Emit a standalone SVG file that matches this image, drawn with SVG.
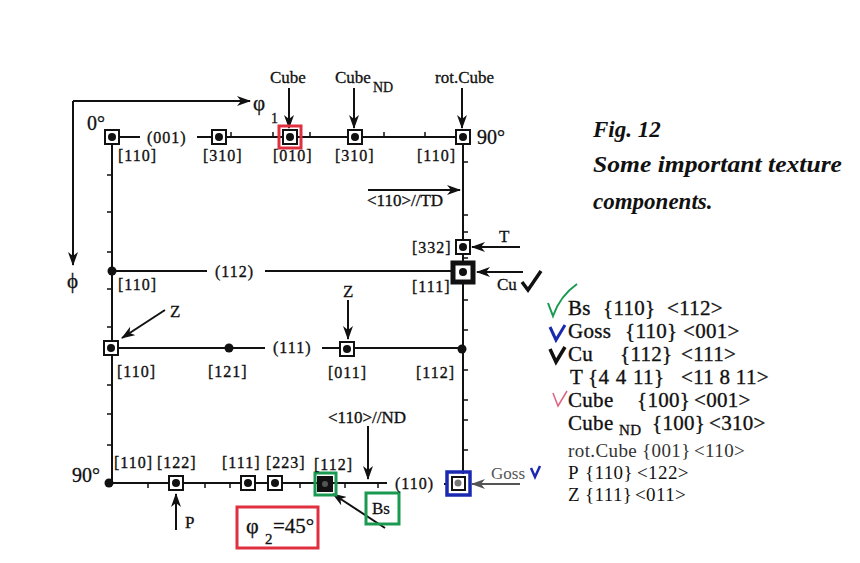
<svg xmlns="http://www.w3.org/2000/svg" width="860" height="563" viewBox="0 0 860 563">
<defs>
<marker id="ah" markerWidth="14" markerHeight="10" refX="13" refY="5" orient="auto" markerUnits="userSpaceOnUse">
<path d="M0,0 L14,5 L0,10 L4,5 z" fill="#111"/>
</marker>
<marker id="ahg" markerWidth="14" markerHeight="10" refX="13" refY="5" orient="auto" markerUnits="userSpaceOnUse">
<path d="M0,0 L14,5 L0,10 L4,5 z" fill="#555"/>
</marker>
<style>
.ln{stroke:#111;stroke-width:2;fill:none}
.tk{stroke:#111;stroke-width:1.5;fill:none}
.ar{stroke:#111;stroke-width:2;fill:none;marker-end:url(#ah)}
.box{fill:#fff;stroke:#111;stroke-width:2}
.dot{fill:#111}
.t{font-family:"Liberation Serif",serif;font-size:16px;fill:#111;letter-spacing:1px;stroke:#111;stroke-width:0.35}
.lb{font-family:"Liberation Serif",serif;font-size:17px;fill:#111;stroke:#111;stroke-width:0.3}
.lg{font-family:"Liberation Serif",serif;font-size:21px;fill:#111;letter-spacing:0.3px;stroke:#111;stroke-width:0.35}
.lgs{font-family:"Liberation Serif",serif;font-size:19px;fill:#333;letter-spacing:0.4px}
.ttl{font-family:"Liberation Serif",serif;font-size:23px;font-weight:bold;font-style:italic;fill:#111}
</style>
</defs>
<rect width="860" height="563" fill="#fff"/>

<g id="connectors">
<path class="ln" d="M73,101 H250" marker-end="url(#ah)"/>
<path class="ln" d="M73,101 V265" marker-end="url(#ah)"/>
<path class="ln" d="M112,137 H140 M197,137 H463"/>
<path class="ln" d="M112,137 V483"/>
<path class="ln" d="M463,137 V474"/>
<path class="ln" d="M111,271 H207 M265,271 H463"/>
<path class="ln" d="M111,348 H265 M322,348 H463"/>
<path class="ln" d="M109,483 H387"/>
<path class="ln" d="M444,484 H448"/>
<path class="tk" d="M231,137 v-5 M273,137 v-5 M310,137 v-5 M384,137 v-5 M425,137 v-5"/>
<path class="tk" d="M112,175 h-5 M112,212 h-5 M112,252 h-5 M112,289 h-5 M112,327 h-5 M112,385 h-5 M112,414 h-5 M112,445 h-5"/>
<path class="tk" d="M463,162 h5 M463,215 h5 M463,232 h5 M463,258 h5 M463,300 h5 M463,330 h5 M463,370 h5 M463,400 h5 M463,420 h5 M463,450 h5"/>
<path class="tk" d="M148,483 v5 M205,483 v5 M230,483 v5 M300,483 v5 M345,483 v5 M378,483 v5"/>
<path class="ar" d="M289,88 V128"/>
<path class="ar" d="M354,88 V128"/>
<path class="ar" d="M462,88 V128"/>
<path class="ar" d="M368,190 H460"/>
<path class="ar" d="M520,247 H472"/>
<path class="ar" d="M523,272 H477"/>
<path class="ar" d="M165,310 L122,338"/>
<path class="ar" d="M348,300 V339"/>
<path class="ar" d="M368,426 V479"/>
<path class="ar" d="M176,530 V494"/>
<path class="ar" d="M385,528 L333,494"/>
<path d="M520,484 H472" stroke="#555" stroke-width="2" fill="none" marker-end="url(#ahg)"/>
</g>

<g id="axis-labels">
<text class="lb" x="253" y="110" style="font-size:21px">φ</text>
<text class="lb" x="271" y="123" style="font-size:14px">1</text>
<text class="lb" x="67" y="288" style="font-size:21px">ϕ</text>
<text class="lb" x="87" y="130" style="font-size:20px">0°</text>
<text class="lb" x="477" y="144" style="font-size:20px">90°</text>
<text class="lb" x="72" y="482" style="font-size:20px">90°</text>
</g>

<g id="n-top110"><rect class="box" x="105" y="130" width="14" height="14"/><circle class="dot" cx="112" cy="137" r="4"/><text class="t" x="118" y="161">[110]</text></g>
<text class="t" x="147" y="143">(001)</text>
<g id="n-310a"><rect class="box" x="212" y="130" width="14" height="14"/><circle class="dot" cx="219" cy="137" r="4"/><text class="t" x="203" y="161">[310]</text></g>
<g id="n-cube"><rect x="279" y="126" width="22" height="22" fill="none" stroke="#e03040" stroke-width="3"/><rect class="box" x="283" y="130" width="14" height="14"/><circle class="dot" cx="290" cy="137" r="4"/><text class="t" x="273" y="161">[010]</text><text class="lb" x="270" y="83">Cube</text></g>
<g id="n-cubend"><rect class="box" x="348" y="130" width="14" height="14"/><circle class="dot" cx="355" cy="137" r="4"/><text class="t" x="335" y="161">[310]</text><text class="lb" x="335" y="83">Cube</text><text class="lb" x="373" y="92" style="font-size:14px">ND</text></g>
<g id="n-rotcube"><rect class="box" x="456" y="130" width="14" height="14"/><circle class="dot" cx="463" cy="137" r="4"/><text class="t" x="417" y="161">[110]</text><text class="lb" x="435" y="83">rot.Cube</text></g>

<text class="t" x="367" y="206" style="font-size:17px;letter-spacing:0">&lt;110&gt;//TD</text>

<g id="n-332"><rect class="box" x="456" y="240" width="14" height="14"/><circle class="dot" cx="463" cy="247" r="4"/><text class="t" x="412" y="253">[332]</text><text class="lb" x="499" y="242">T</text></g>
<g id="n-cu"><rect x="453" y="263" width="20" height="19" fill="#fff" stroke="#111" stroke-width="5"/><circle class="dot" cx="463" cy="272" r="4"/><text class="t" x="412" y="292">[111]</text><text class="lb" x="497" y="290">Cu</text><path d="M522,282 L528,290 L541,271" stroke="#111" stroke-width="3.5" fill="none"/></g>

<g id="n-row2-110"><circle class="dot" cx="112" cy="271" r="4.5"/><text class="t" x="118" y="290">[110]</text></g>
<text class="t" x="215" y="277">(112)</text>

<g id="n-z110"><rect class="box" x="104" y="341" width="14" height="14"/><circle class="dot" cx="111" cy="348" r="4"/><text class="t" x="117" y="377">[110]</text><text class="lb" x="170" y="317">Z</text></g>
<g id="n-121"><circle class="dot" cx="229" cy="348" r="4.5"/><text class="t" x="208" y="377">[121]</text></g>
<text class="t" x="273" y="353">(111)</text>
<g id="n-011"><rect class="box" x="340" y="342" width="14" height="14"/><circle class="dot" cx="347" cy="349" r="4"/><text class="t" x="328" y="378">[011]</text><text class="lb" x="343" y="297">Z</text></g>
<g id="n-112r"><circle class="dot" cx="462" cy="349" r="4.5"/><text class="t" x="416" y="378">[112]</text></g>

<text class="t" x="328" y="423" style="font-size:17px;letter-spacing:0">&lt;110&gt;//ND</text>

<g id="n-b110"><circle class="dot" cx="109" cy="483" r="4.5"/><text class="t" x="114" y="468">[110]</text></g>
<g id="n-p"><rect class="box" x="169" y="476" width="14" height="14"/><circle class="dot" cx="176" cy="483" r="4"/><text class="t" x="157" y="468">[122]</text><text class="lb" x="185" y="528">P</text></g>
<g id="n-111b"><rect class="box" x="241" y="476" width="14" height="14"/><circle class="dot" cx="248" cy="483" r="4"/><text class="t" x="222" y="468">[111]</text></g>
<g id="n-223"><rect class="box" x="268" y="476" width="14" height="14"/><circle class="dot" cx="275" cy="483" r="4"/><text class="t" x="266" y="468">[223]</text></g>
<g id="n-bs"><rect x="315" y="473" width="21" height="22" fill="none" stroke="#1a9a50" stroke-width="3"/><rect x="318" y="477" width="14" height="14" fill="#111" stroke="#111" stroke-width="2"/><circle cx="325" cy="484" r="3" fill="#555"/><text class="t" x="314" y="470">[112]</text>
<rect x="366" y="493" width="33" height="31" fill="none" stroke="#1a9a50" stroke-width="3"/><text class="lb" x="372" y="514">Bs</text></g>
<text class="t" x="395" y="489">(110)</text>
<g id="n-goss"><rect x="447" y="472" width="23" height="23" fill="none" stroke="#1a2ab0" stroke-width="3.5"/><rect class="box" x="452" y="477" width="13" height="13"/><circle cx="458" cy="483" r="3.5" fill="#777"/><text class="lb" x="491" y="479" style="fill:#555;stroke:none">Goss</text><path d="M531,468 L535,477 L540,466" stroke="#1a2ab0" stroke-width="2.5" fill="none"/></g>

<g id="phi2">
<rect x="237" y="507" width="81" height="41" fill="none" stroke="#e03040" stroke-width="3"/>
<text class="lb" x="246" y="533" style="font-size:22px">φ</text>
<text class="lb" x="265" y="544" style="font-size:15px">2</text>
<text class="lb" x="273" y="533" style="font-size:21px">=45°</text>
</g>

<g id="title">
<text class="ttl" x="593" y="137">Fig. 12</text>
<text class="ttl" x="593" y="172" textLength="249" lengthAdjust="spacingAndGlyphs">Some important texture</text>
<text class="ttl" x="593" y="209">components.</text>
</g>

<g id="legend">
<path d="M548,303 L553,316 Q560,296 577,284" stroke="#1a9a50" stroke-width="2" fill="none"/>
<text class="lg" x="568" y="315">Bs</text><text class="lg" x="603" y="315">{110}</text><text class="lg" x="667" y="315">&lt;112&gt;</text>
<path d="M550,327 L556,340 L565,325" stroke="#1a2ab0" stroke-width="3" fill="none"/>
<text class="lg" x="568" y="338">Goss</text><text class="lg" x="625" y="338">{110}</text><text class="lg" x="683" y="338">&lt;001&gt;</text>
<path d="M550,349 L556,362 L565,347" stroke="#111" stroke-width="3.5" fill="none"/>
<text class="lg" x="568" y="361">Cu</text><text class="lg" x="620" y="361">{112}</text><text class="lg" x="681" y="361">&lt;111&gt;</text>
<text class="lg" x="570" y="384">T</text><text class="lg" x="588" y="384" style="word-spacing:1px">{4 4 11}</text><text class="lg" x="681" y="384">&lt;11 8 11&gt;</text>
<path d="M553,393 L558,406 L567,391" stroke="#e06080" stroke-width="1.5" fill="none"/>
<text class="lg" x="568" y="407">Cube</text><text class="lg" x="637" y="407">{100}</text><text class="lg" x="694" y="407">&lt;001&gt;</text>
<text class="lg" x="568" y="430">Cube</text><text class="lg" x="619" y="435" style="font-size:15px">ND</text><text class="lg" x="652" y="430">{100}</text><text class="lg" x="709" y="430">&lt;310&gt;</text>
<text class="lgs" x="568" y="457">rot.Cube</text><text class="lgs" x="642" y="457">{001}</text><text class="lgs" x="694" y="457">&lt;110&gt;</text>
<text class="lgs" x="568" y="479" style="fill:#111">P</text><text class="lgs" x="585" y="479" style="fill:#111">{110}</text><text class="lgs" x="637" y="479" style="fill:#111">&lt;122&gt;</text>
<text class="lgs" x="568" y="501" style="fill:#111">Z</text><text class="lgs" x="585" y="501" style="fill:#111">{111}</text><text class="lgs" x="635" y="501" style="fill:#111">&lt;011&gt;</text>
</g>
</svg>
